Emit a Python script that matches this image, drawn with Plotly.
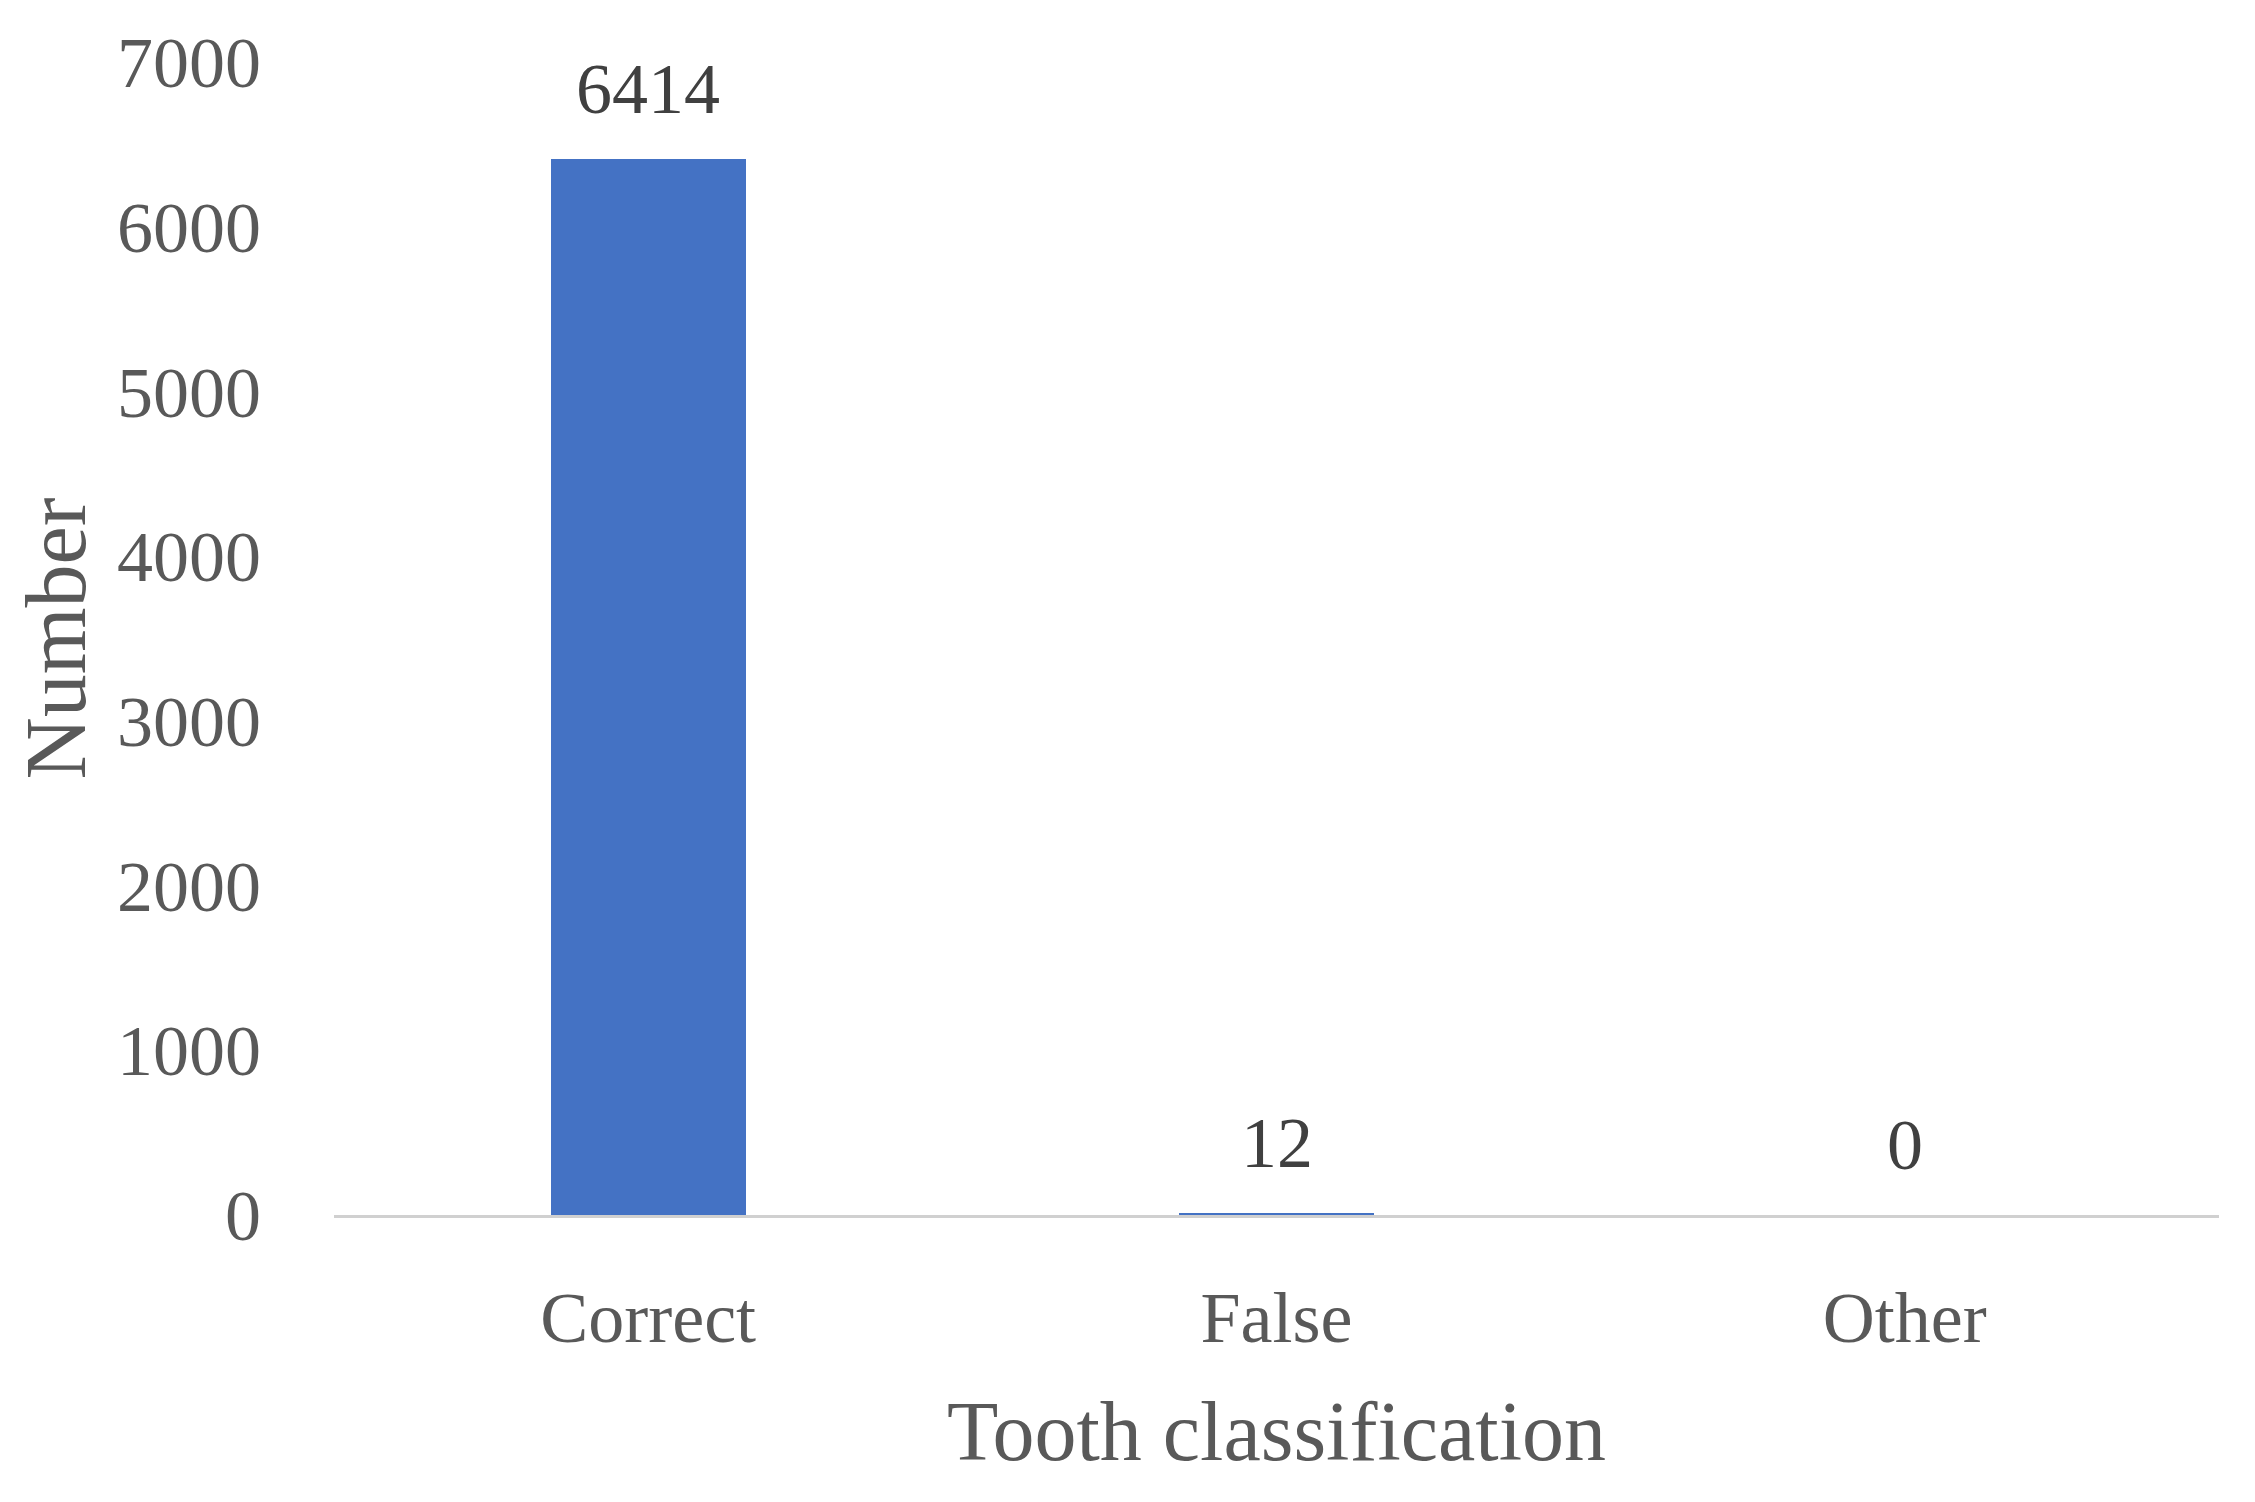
import plotly.graph_objects as go

categories = ["Correct", "False", "Other"]
values = [6414, 12, 0]
y_ticks = [0, 1000, 2000, 3000, 4000, 5000, 6000, 7000]

FONT = "Liberation Serif"

fig = go.Figure()
fig.add_trace(go.Bar(
    x=categories, y=values,
    marker=dict(color="#4472C4", line=dict(width=0)),
    width=0.31,
    showlegend=False,
    hoverinfo="x+y",
))

for c, v in zip(categories, values):
    fig.add_annotation(
        x=c, y=v, text=str(v), showarrow=False,
        yanchor="middle", yshift=70,
        font=dict(family=FONT, size=72, color="#404040"),
    )

fig.update_layout(
    width=2255, height=1502,
    margin=dict(l=326, r=44, t=54, b=295),
    paper_bgcolor="white", plot_bgcolor="white",
    font=dict(family=FONT, color="#595959"),
    bargap=0.0,
)

fig.update_xaxes(
    automargin=False,
    showline=True, linecolor="#D0D0D0", linewidth=3,
    showgrid=False, zeroline=False, ticks="",
    tickfont=dict(family=FONT, size=72, color="#595959"),
    ticklabelstandoff=38,
    title=dict(text="Tooth classification",
               font=dict(family=FONT, size=84, color="#595959"),
               standoff=44),
)

fig.update_yaxes(
    automargin=False,
    range=[0, 7000], tickvals=y_ticks, ticktext=[str(t) for t in y_ticks],
    showline=False, showgrid=False, zeroline=False, ticks="",
    tickfont=dict(family=FONT, size=72, color="#595959"),
    ticklabelstandoff=72,
    title=dict(text="Number",
               font=dict(family=FONT, size=86, color="#595959"),
               standoff=52),
)

fig.write_html("out.html")
